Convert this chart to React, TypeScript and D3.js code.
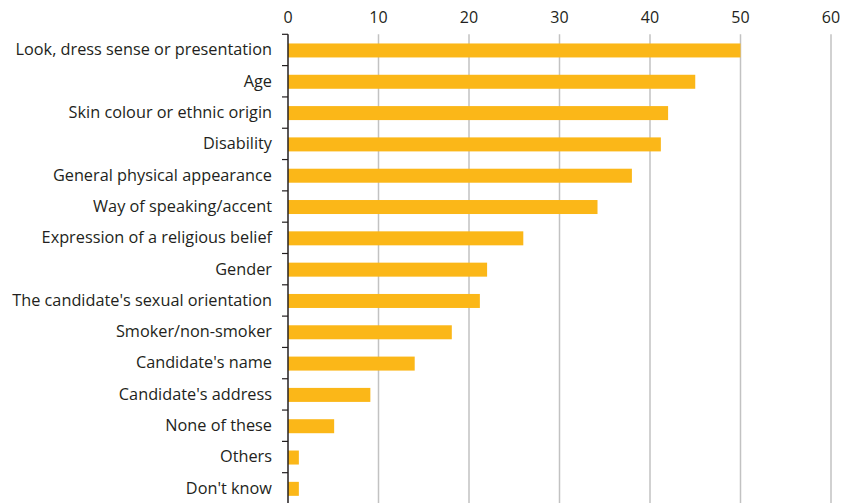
import React from "react";
import * as d3 from "d3";

const categories = [
  "Look, dress sense or presentation",
  "Age",
  "Skin colour or ethnic origin",
  "Disability",
  "General physical appearance",
  "Way of speaking/accent",
  "Expression of a religious belief",
  "Gender",
  "The candidate's sexual orientation",
  "Smoker/non-smoker",
  "Candidate's name",
  "Candidate's address",
  "None of these",
  "Others",
  "Don't know",
];
const values = [50, 45, 42, 41.2, 38, 34.2, 26, 22, 21.2, 18.1, 14, 9.1, 5.1, 1.2, 1.2];
const tickValues = [0, 10, 20, 30, 40, 50, 60];

export default function App() {
  const W = 842, H = 503;
  const x = d3.scaleLinear().domain([0, 60]).range([288, 831]);
  const y = d3.scaleBand().domain(categories).range([34.3, 504]).paddingInner(0).paddingOuter(0);
  const bw = y.bandwidth();
  const barH = 14;
  const font = "'Open Sans', 'Noto Sans', sans-serif";
  return (
    <svg width={W} height={H} style={{ position: "absolute", left: 0, top: 0 }}>
      <rect width={W} height={H} fill="#fff" />
      {tickValues.map((t) => (
        <g key={t}>
          {t > 0 && (
            <line x1={x(t)} x2={x(t)} y1={34.3} y2={H} stroke="#c2c2c2" strokeWidth={1.5} />
          )}
          <text x={x(t)} y={23} textAnchor="middle" fontFamily={font} fontSize={16} fill="#231f20">
            {t}
          </text>
        </g>
      ))}
      {categories.map((c, i) => (
        <g key={c}>
          <rect
            x={x(0)}
            y={(y(c) as number) + bw / 2 - barH / 2 + 0.5}
            width={x(values[i]) - x(0)}
            height={barH}
            fill="#fbb718"
          />
          <text
            x={272}
            y={(y(c) as number) + bw / 2}
            dy="0.33em"
            textAnchor="end"
            fontFamily={font}
            fontSize={16.3}
            fill="#231f20"
          >
            {c}
          </text>
          <line
            x1={282}
            x2={288}
            y1={y(c) as number}
            y2={y(c) as number}
            stroke="#231f20"
            strokeWidth={1.2}
          />
        </g>
      ))}
      <line x1={288} x2={288} y1={34.3} y2={H} stroke="#231f20" strokeWidth={1.5} />
    </svg>
  );
}
